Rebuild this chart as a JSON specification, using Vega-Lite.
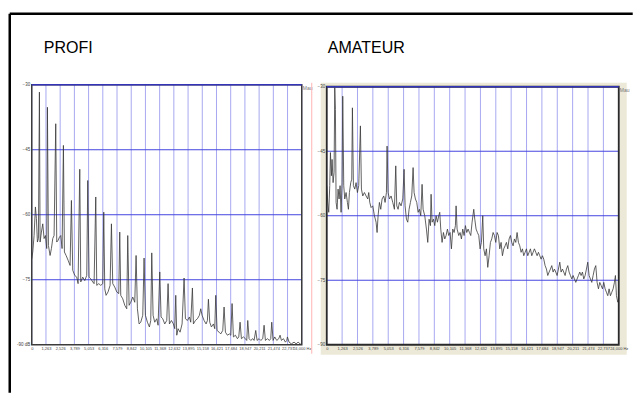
{
  "$schema": "https://vega.github.io/schema/vega-lite/v6.json",
  "autosize": {"type": "pad"},
  "padding": {"left": 7.75, "top": 11.75, "right": 0, "bottom": 0},
  "background": "white",
  "bounds": "flush",
  "spacing": 19,
  "config": {
    "font": "Liberation Sans",
    "view": {"stroke": null},
    "axis": {"grid": false, "domain": false, "ticks": false, "labelFontSize": 4.5, "labelColor": "#444", "labelFont": "Liberation Sans", "labelOverlap": false, "labelFlush": false, "labelPadding": 2}
  },
  "datasets": {
    "one": [{"label": "Mau"}],
    "t1": [{"title": "PROFI"}],
    "t2": [{"title": "AMATEUR"}],
    "xgrid": [{"hz": 0}, {"hz": 1263.16}, {"hz": 2526.32}, {"hz": 3789.47}, {"hz": 5052.63}, {"hz": 6315.79}, {"hz": 7578.95}, {"hz": 8842.11}, {"hz": 10105.26}, {"hz": 11368.42}, {"hz": 12631.58}, {"hz": 13894.74}, {"hz": 15157.89}, {"hz": 16421.05}, {"hz": 17684.21}, {"hz": 18947.37}, {"hz": 20210.53}, {"hz": 21473.68}, {"hz": 22736.84}, {"hz": 24000}],
    "ygrid": [{"db": -45}, {"db": -60}, {"db": -75}],
    "profi": [
      {"hz": 0, "db": -70.2}, {"hz": 89, "db": -68.6}, {"hz": 207, "db": -64.8}, {"hz": 326, "db": -58.2}, {"hz": 415, "db": -60.9}, {"hz": 504, "db": -66.3}, {"hz": 593, "db": -65.5}, {"hz": 681, "db": -31.7}, {"hz": 741, "db": -66.3}, {"hz": 859, "db": -64.0}, {"hz": 978, "db": -62.1}, {"hz": 1096, "db": -65.5}, {"hz": 1215, "db": -64.8}, {"hz": 1333, "db": -67.8}, {"hz": 1393, "db": -35.2}, {"hz": 1482, "db": -67.1}, {"hz": 1630, "db": -69.4}, {"hz": 1748, "db": -67.8}, {"hz": 1867, "db": -65.5}, {"hz": 1985, "db": -64.8}, {"hz": 2133, "db": -39.0}, {"hz": 2222, "db": -66.3}, {"hz": 2341, "db": -65.9}, {"hz": 2459, "db": -65.2}, {"hz": 2578, "db": -64.8}, {"hz": 2696, "db": -67.8}, {"hz": 2815, "db": -44.0}, {"hz": 2904, "db": -68.6}, {"hz": 3052, "db": -69.4}, {"hz": 3230, "db": -70.5}, {"hz": 3407, "db": -71.7}, {"hz": 3526, "db": -56.7}, {"hz": 3644, "db": -72.8}, {"hz": 3822, "db": -74.0}, {"hz": 4000, "db": -74.4}, {"hz": 4119, "db": -75.9}, {"hz": 4267, "db": -49.5}, {"hz": 4356, "db": -75.5}, {"hz": 4533, "db": -74.4}, {"hz": 4711, "db": -75.2}, {"hz": 4889, "db": -74.0}, {"hz": 4978, "db": -52.1}, {"hz": 5096, "db": -74.4}, {"hz": 5245, "db": -74.8}, {"hz": 5422, "db": -75.5}, {"hz": 5541, "db": -75.9}, {"hz": 5689, "db": -55.9}, {"hz": 5778, "db": -76.3}, {"hz": 5956, "db": -75.9}, {"hz": 6133, "db": -76.3}, {"hz": 6311, "db": -75.9}, {"hz": 6400, "db": -59.4}, {"hz": 6489, "db": -77.1}, {"hz": 6607, "db": -78.6}, {"hz": 6785, "db": -77.8}, {"hz": 6963, "db": -76.3}, {"hz": 7082, "db": -62.1}, {"hz": 7200, "db": -75.9}, {"hz": 7378, "db": -76.7}, {"hz": 7556, "db": -77.8}, {"hz": 7733, "db": -78.2}, {"hz": 7822, "db": -64.0}, {"hz": 7911, "db": -78.6}, {"hz": 8089, "db": -79.4}, {"hz": 8267, "db": -80.9}, {"hz": 8444, "db": -81.7}, {"hz": 8533, "db": -64.8}, {"hz": 8652, "db": -80.9}, {"hz": 8800, "db": -80.2}, {"hz": 8978, "db": -79.0}, {"hz": 9156, "db": -80.2}, {"hz": 9274, "db": -69.4}, {"hz": 9393, "db": -81.7}, {"hz": 9541, "db": -85.2}, {"hz": 9689, "db": -84.8}, {"hz": 9867, "db": -83.2}, {"hz": 9985, "db": -70.0}, {"hz": 10104, "db": -83.2}, {"hz": 10281, "db": -84.8}, {"hz": 10459, "db": -85.9}, {"hz": 10578, "db": -84.4}, {"hz": 10667, "db": -68.8}, {"hz": 10785, "db": -83.2}, {"hz": 10933, "db": -84.8}, {"hz": 11111, "db": -84.0}, {"hz": 11230, "db": -85.5}, {"hz": 11378, "db": -73.2}, {"hz": 11496, "db": -83.6}, {"hz": 11644, "db": -84.0}, {"hz": 11822, "db": -85.2}, {"hz": 12000, "db": -84.4}, {"hz": 12119, "db": -75.9}, {"hz": 12237, "db": -85.2}, {"hz": 12415, "db": -84.4}, {"hz": 12593, "db": -85.2}, {"hz": 12711, "db": -86.3}, {"hz": 12800, "db": -78.6}, {"hz": 12889, "db": -87.8}, {"hz": 13007, "db": -86.3}, {"hz": 13185, "db": -87.1}, {"hz": 13363, "db": -85.2}, {"hz": 13541, "db": -74.6}, {"hz": 13659, "db": -84.0}, {"hz": 13837, "db": -84.4}, {"hz": 14015, "db": -83.6}, {"hz": 14133, "db": -84.8}, {"hz": 14281, "db": -76.9}, {"hz": 14370, "db": -85.2}, {"hz": 14548, "db": -84.4}, {"hz": 14726, "db": -84.0}, {"hz": 14904, "db": -83.2}, {"hz": 15022, "db": -81.7}, {"hz": 15141, "db": -83.2}, {"hz": 15319, "db": -84.4}, {"hz": 15496, "db": -85.2}, {"hz": 15615, "db": -84.4}, {"hz": 15704, "db": -79.5}, {"hz": 15822, "db": -84.8}, {"hz": 15970, "db": -85.9}, {"hz": 16148, "db": -85.2}, {"hz": 16267, "db": -86.3}, {"hz": 16356, "db": -78.6}, {"hz": 16474, "db": -86.7}, {"hz": 16652, "db": -87.1}, {"hz": 16800, "db": -87.5}, {"hz": 16978, "db": -86.7}, {"hz": 17096, "db": -81.3}, {"hz": 17215, "db": -87.1}, {"hz": 17393, "db": -87.8}, {"hz": 17570, "db": -87.5}, {"hz": 17689, "db": -87.8}, {"hz": 17807, "db": -80.5}, {"hz": 17926, "db": -88.2}, {"hz": 18104, "db": -87.8}, {"hz": 18281, "db": -88.6}, {"hz": 18400, "db": -88.2}, {"hz": 18519, "db": -84.8}, {"hz": 18637, "db": -88.6}, {"hz": 18815, "db": -88.2}, {"hz": 18993, "db": -88.6}, {"hz": 19111, "db": -89.0}, {"hz": 19200, "db": -84.4}, {"hz": 19319, "db": -88.6}, {"hz": 19467, "db": -89.0}, {"hz": 19644, "db": -88.6}, {"hz": 19763, "db": -89.0}, {"hz": 19911, "db": -86.7}, {"hz": 20030, "db": -89.0}, {"hz": 20207, "db": -88.6}, {"hz": 20356, "db": -89.0}, {"hz": 20533, "db": -88.6}, {"hz": 20652, "db": -85.5}, {"hz": 20770, "db": -89.0}, {"hz": 20948, "db": -88.6}, {"hz": 21126, "db": -89.0}, {"hz": 21244, "db": -88.6}, {"hz": 21333, "db": -84.8}, {"hz": 21452, "db": -89.0}, {"hz": 21600, "db": -88.2}, {"hz": 21778, "db": -89.0}, {"hz": 21956, "db": -88.6}, {"hz": 22074, "db": -87.8}, {"hz": 22193, "db": -89.0}, {"hz": 22370, "db": -88.6}, {"hz": 22548, "db": -89.4}, {"hz": 22667, "db": -89.0}, {"hz": 22726, "db": -88.2}, {"hz": 22874, "db": -89.4}, {"hz": 23081, "db": -89.8}, {"hz": 23319, "db": -89.4}, {"hz": 23496, "db": -89.8}, {"hz": 23674, "db": -89.4}, {"hz": 23852, "db": -89.8}, {"hz": 24000, "db": -90.0}
    ],
    "amateur": [
      {"hz": 0, "db": -53.0}, {"hz": 82, "db": -56.9}, {"hz": 164, "db": -59.2}, {"hz": 247, "db": -53.0}, {"hz": 301, "db": -45.3}, {"hz": 384, "db": -50.7}, {"hz": 438, "db": -46.9}, {"hz": 521, "db": -52.3}, {"hz": 603, "db": -49.9}, {"hz": 658, "db": -30.2}, {"hz": 712, "db": -35.3}, {"hz": 767, "db": -56.9}, {"hz": 849, "db": -58.5}, {"hz": 932, "db": -53.8}, {"hz": 1014, "db": -56.1}, {"hz": 1096, "db": -53.0}, {"hz": 1178, "db": -59.2}, {"hz": 1260, "db": -52.3}, {"hz": 1315, "db": -32.2}, {"hz": 1397, "db": -53.0}, {"hz": 1480, "db": -56.1}, {"hz": 1589, "db": -54.6}, {"hz": 1699, "db": -56.9}, {"hz": 1781, "db": -58.5}, {"hz": 1863, "db": -54.6}, {"hz": 1973, "db": -52.3}, {"hz": 2055, "db": -51.5}, {"hz": 2110, "db": -34.9}, {"hz": 2192, "db": -53.0}, {"hz": 2302, "db": -53.8}, {"hz": 2411, "db": -52.3}, {"hz": 2521, "db": -54.6}, {"hz": 2630, "db": -53.0}, {"hz": 2767, "db": -39.1}, {"hz": 2850, "db": -53.8}, {"hz": 2959, "db": -55.4}, {"hz": 3096, "db": -54.6}, {"hz": 3233, "db": -55.4}, {"hz": 3370, "db": -56.1}, {"hz": 3452, "db": -54.6}, {"hz": 3535, "db": -56.9}, {"hz": 3644, "db": -58.1}, {"hz": 3781, "db": -57.7}, {"hz": 3918, "db": -60.0}, {"hz": 4055, "db": -61.5}, {"hz": 4137, "db": -63.9}, {"hz": 4220, "db": -60.0}, {"hz": 4329, "db": -56.9}, {"hz": 4439, "db": -58.5}, {"hz": 4548, "db": -56.1}, {"hz": 4685, "db": -55.4}, {"hz": 4795, "db": -56.9}, {"hz": 4905, "db": -54.6}, {"hz": 4959, "db": -43.8}, {"hz": 5042, "db": -54.6}, {"hz": 5151, "db": -56.1}, {"hz": 5288, "db": -55.4}, {"hz": 5425, "db": -56.9}, {"hz": 5562, "db": -58.5}, {"hz": 5672, "db": -48.4}, {"hz": 5754, "db": -57.7}, {"hz": 5864, "db": -58.5}, {"hz": 5973, "db": -56.9}, {"hz": 6110, "db": -57.7}, {"hz": 6247, "db": -56.1}, {"hz": 6357, "db": -49.2}, {"hz": 6439, "db": -57.7}, {"hz": 6549, "db": -60.8}, {"hz": 6658, "db": -61.5}, {"hz": 6768, "db": -58.5}, {"hz": 6877, "db": -56.9}, {"hz": 6987, "db": -55.4}, {"hz": 7097, "db": -48.8}, {"hz": 7179, "db": -54.6}, {"hz": 7288, "db": -56.1}, {"hz": 7398, "db": -56.9}, {"hz": 7508, "db": -59.2}, {"hz": 7617, "db": -58.5}, {"hz": 7727, "db": -60.0}, {"hz": 7836, "db": -52.7}, {"hz": 7919, "db": -58.5}, {"hz": 8056, "db": -60.0}, {"hz": 8193, "db": -63.1}, {"hz": 8302, "db": -66.2}, {"hz": 8412, "db": -60.8}, {"hz": 8521, "db": -62.3}, {"hz": 8576, "db": -55.0}, {"hz": 8658, "db": -61.5}, {"hz": 8768, "db": -60.8}, {"hz": 8878, "db": -62.3}, {"hz": 8987, "db": -60.0}, {"hz": 9097, "db": -61.5}, {"hz": 9206, "db": -60.0}, {"hz": 9289, "db": -59.2}, {"hz": 9371, "db": -63.1}, {"hz": 9480, "db": -66.2}, {"hz": 9590, "db": -63.9}, {"hz": 9700, "db": -65.4}, {"hz": 9809, "db": -64.6}, {"hz": 9919, "db": -63.1}, {"hz": 10028, "db": -64.6}, {"hz": 10138, "db": -63.9}, {"hz": 10248, "db": -67.7}, {"hz": 10357, "db": -63.1}, {"hz": 10467, "db": -63.9}, {"hz": 10576, "db": -62.3}, {"hz": 10631, "db": -57.7}, {"hz": 10713, "db": -63.1}, {"hz": 10850, "db": -64.6}, {"hz": 10960, "db": -63.9}, {"hz": 11070, "db": -65.4}, {"hz": 11179, "db": -63.1}, {"hz": 11289, "db": -64.6}, {"hz": 11398, "db": -62.3}, {"hz": 11508, "db": -63.9}, {"hz": 11618, "db": -63.1}, {"hz": 11727, "db": -63.9}, {"hz": 11837, "db": -64.6}, {"hz": 11946, "db": -61.5}, {"hz": 12083, "db": -58.5}, {"hz": 12166, "db": -60.8}, {"hz": 12275, "db": -63.1}, {"hz": 12385, "db": -63.9}, {"hz": 12494, "db": -64.6}, {"hz": 12604, "db": -67.7}, {"hz": 12714, "db": -66.2}, {"hz": 12823, "db": -60.0}, {"hz": 12905, "db": -67.7}, {"hz": 13015, "db": -69.3}, {"hz": 13125, "db": -67.7}, {"hz": 13234, "db": -72.0}, {"hz": 13344, "db": -69.3}, {"hz": 13453, "db": -66.2}, {"hz": 13563, "db": -65.4}, {"hz": 13673, "db": -63.9}, {"hz": 13782, "db": -64.6}, {"hz": 13892, "db": -66.2}, {"hz": 14001, "db": -63.9}, {"hz": 14111, "db": -64.6}, {"hz": 14221, "db": -67.7}, {"hz": 14330, "db": -66.2}, {"hz": 14440, "db": -69.3}, {"hz": 14549, "db": -67.7}, {"hz": 14659, "db": -67.0}, {"hz": 14769, "db": -66.2}, {"hz": 14878, "db": -67.7}, {"hz": 14988, "db": -65.4}, {"hz": 15097, "db": -64.6}, {"hz": 15207, "db": -66.2}, {"hz": 15317, "db": -67.0}, {"hz": 15426, "db": -65.4}, {"hz": 15536, "db": -66.2}, {"hz": 15645, "db": -63.9}, {"hz": 15755, "db": -66.2}, {"hz": 15865, "db": -67.0}, {"hz": 15974, "db": -68.5}, {"hz": 16084, "db": -67.7}, {"hz": 16193, "db": -69.3}, {"hz": 16303, "db": -68.5}, {"hz": 16413, "db": -67.7}, {"hz": 16522, "db": -69.3}, {"hz": 16632, "db": -68.5}, {"hz": 16741, "db": -67.7}, {"hz": 16851, "db": -69.3}, {"hz": 16961, "db": -68.5}, {"hz": 17070, "db": -67.7}, {"hz": 17180, "db": -68.5}, {"hz": 17289, "db": -69.3}, {"hz": 17399, "db": -68.5}, {"hz": 17509, "db": -69.3}, {"hz": 17618, "db": -70.1}, {"hz": 17728, "db": -69.3}, {"hz": 17837, "db": -70.1}, {"hz": 17947, "db": -71.6}, {"hz": 18057, "db": -72.4}, {"hz": 18166, "db": -73.9}, {"hz": 18276, "db": -73.1}, {"hz": 18385, "db": -72.4}, {"hz": 18495, "db": -71.6}, {"hz": 18605, "db": -73.1}, {"hz": 18714, "db": -72.4}, {"hz": 18824, "db": -73.1}, {"hz": 18933, "db": -73.9}, {"hz": 19043, "db": -72.4}, {"hz": 19153, "db": -70.8}, {"hz": 19262, "db": -73.1}, {"hz": 19372, "db": -72.4}, {"hz": 19481, "db": -73.1}, {"hz": 19591, "db": -73.9}, {"hz": 19701, "db": -72.4}, {"hz": 19810, "db": -71.6}, {"hz": 19920, "db": -73.1}, {"hz": 20029, "db": -73.9}, {"hz": 20139, "db": -74.7}, {"hz": 20249, "db": -73.9}, {"hz": 20358, "db": -74.7}, {"hz": 20468, "db": -75.5}, {"hz": 20577, "db": -74.7}, {"hz": 20687, "db": -73.9}, {"hz": 20797, "db": -73.1}, {"hz": 20906, "db": -73.9}, {"hz": 21016, "db": -73.1}, {"hz": 21125, "db": -74.7}, {"hz": 21235, "db": -73.9}, {"hz": 21345, "db": -72.4}, {"hz": 21454, "db": -70.8}, {"hz": 21564, "db": -73.9}, {"hz": 21673, "db": -74.7}, {"hz": 21783, "db": -75.5}, {"hz": 21893, "db": -73.9}, {"hz": 22002, "db": -72.4}, {"hz": 22112, "db": -71.6}, {"hz": 22221, "db": -75.5}, {"hz": 22331, "db": -77.0}, {"hz": 22441, "db": -75.5}, {"hz": 22550, "db": -76.2}, {"hz": 22660, "db": -77.0}, {"hz": 22769, "db": -75.5}, {"hz": 22879, "db": -77.0}, {"hz": 22989, "db": -77.8}, {"hz": 23098, "db": -78.6}, {"hz": 23208, "db": -77.0}, {"hz": 23317, "db": -78.6}, {"hz": 23427, "db": -77.8}, {"hz": 23537, "db": -77.0}, {"hz": 23646, "db": -75.5}, {"hz": 23728, "db": -73.9}, {"hz": 23811, "db": -78.6}, {"hz": 23920, "db": -80.1}, {"hz": 24000, "db": -79.3}
    ]
  },
  "hconcat": [
    {
      "width": 270,
      "height": 272,
      "view": {"stroke": null},
      "layer": [
        {
          "data": {"name": "one"},
          "mark": {"type": "rect", "fill": "white", "stroke": null},
          "encoding": {
            "x": {"datum": 0, "type": "quantitative", "scale": {"domain": [0, 24000], "nice": false, "zero": false},
                  "axis": {"title": null, "values": [0, 1263.16, 2526.32, 3789.47, 5052.63, 6315.79, 7578.95, 8842.11, 10105.26, 11368.42, 12631.58, 13894.74, 15157.89, 16421.05, 17684.21, 18947.37, 20210.53, 21473.68, 22736.84, 24000], "tickCount": 40, "format": ",.0f", "labelExpr": "datum.value >= 24000 ? '24,000 Hz' : datum.label", "offset": -10, "labelOverlap": false, "labelFlush": false, "labelFontSize": 4}},
            "x2": {"datum": 24000},
            "y": {"datum": -90, "type": "quantitative", "scale": {"domain": [-92.31, -29.54], "nice": false, "zero": false},
                  "axis": {"title": null, "values": [-30, -45, -60, -75, -90], "labelExpr": "datum.value == -90 ? '-90 dB' : datum.label", "offset": 0, "labelOverlap": false}},
            "y2": {"datum": -30}
          }
        },
        {
          "data": {"name": "xgrid"},
          "mark": {"type": "rule", "color": "#a8a8f2", "strokeWidth": 1},
          "encoding": {"x": {"field": "hz", "type": "quantitative", "title": null}, "y": {"datum": -90}, "y2": {"datum": -30}}
        },
        {
          "data": {"name": "ygrid"},
          "mark": {"type": "rule", "color": "#4646e0", "strokeWidth": 1},
          "encoding": {"y": {"field": "db", "type": "quantitative", "title": null}, "x": {"datum": 0}, "x2": {"datum": 24000}}
        },
        {
          "data": {"name": "profi"},
          "mark": {"type": "line", "color": "#3a3a3a", "strokeWidth": 0.8, "clip": true},
          "encoding": {"x": {"field": "hz", "type": "quantitative", "title": null}, "y": {"field": "db", "type": "quantitative", "title": null}}
        },
        {
          "data": {"name": "one"},
          "mark": {"type": "rect", "filled": false, "stroke": "#3c3c3c", "strokeWidth": 1.5},
          "encoding": {"x": {"datum": 0}, "x2": {"datum": 24000}, "y": {"datum": -90}, "y2": {"datum": -30}}
        },
        {
          "data": {"name": "one"},
          "mark": {"type": "rule", "color": "#3434b8", "strokeWidth": 1.5},
          "encoding": {"x": {"datum": 0}, "x2": {"datum": 24000}, "y": {"datum": -30}}
        },
        {
          "data": {"name": "one"},
          "mark": {"type": "text", "align": "left", "baseline": "top", "dx": 1, "dy": 1, "fontSize": 5, "color": "#777"},
          "encoding": {"x": {"datum": 24000}, "y": {"datum": -30}, "text": {"field": "label"}}
        },
        {
          "data": {"name": "t1"},
          "mark": {"type": "text", "align": "left", "baseline": "alphabetic", "fontSize": 16, "font": "Liberation Sans", "color": "#000"},
          "encoding": {"x": {"datum": 1067}, "y": {"datum": -22.62}, "text": {"field": "title"}}
        },
        {
          "data": {"name": "one"},
          "mark": {"type": "rule", "color": "#ffb3b3", "strokeWidth": 1},
          "encoding": {"x": {"datum": 24889}, "y": {"datum": -29.54}, "y2": {"datum": -92.08}}
        },
        {
          "data": {"name": "one"},
          "mark": {"type": "rule", "color": "#000", "strokeWidth": 2.5},
          "encoding": {"x": {"datum": -1956}, "x2": {"datum": 53420}, "y": {"datum": -13.62}}
        },
        {
          "data": {"name": "one"},
          "mark": {"type": "rule", "color": "#000", "strokeWidth": 2.5},
          "encoding": {"x": {"datum": -1956}, "y": {"datum": -13.62}, "y2": {"datum": -101.1}}
        }
      ]
    },
    {
      "width": 306,
      "height": 272,
      "view": {"stroke": null, "fill": "#ECE9D8"},
      "layer": [
        {
          "data": {"name": "one"},
          "mark": {"type": "rect", "fill": "white", "stroke": null},
          "encoding": {
            "x": {"datum": 0, "type": "quantitative", "scale": {"domain": [-493, 24658], "nice": false, "zero": false},
                  "axis": {"title": null, "values": [0, 1263.16, 2526.32, 3789.47, 5052.63, 6315.79, 7578.95, 8842.11, 10105.26, 11368.42, 12631.58, 13894.74, 15157.89, 16421.05, 17684.21, 18947.37, 20210.53, 21473.68, 22736.84, 24000], "tickCount": 40, "format": ",.0f", "labelExpr": "datum.value >= 24000 ? '24,000 Hz' : datum.label", "offset": -10, "labelOverlap": false, "labelFlush": false, "labelFontSize": 4}},
            "x2": {"datum": 24000},
            "y": {"datum": -90, "type": "quantitative", "scale": {"domain": [-92.33, -29.07], "nice": false, "zero": false},
                  "axis": {"title": null, "values": [-30, -45, -60, -75, -90], "offset": -6, "labelOverlap": false}},
            "y2": {"datum": -30}
          }
        },
        {
          "data": {"name": "xgrid"},
          "mark": {"type": "rule", "color": "#a8a8f2", "strokeWidth": 1},
          "encoding": {"x": {"field": "hz", "type": "quantitative", "title": null}, "y": {"datum": -90}, "y2": {"datum": -30}}
        },
        {
          "data": {"name": "ygrid"},
          "mark": {"type": "rule", "color": "#4646e0", "strokeWidth": 1},
          "encoding": {"y": {"field": "db", "type": "quantitative", "title": null}, "x": {"datum": 0}, "x2": {"datum": 24000}}
        },
        {
          "data": {"name": "amateur"},
          "mark": {"type": "line", "color": "#3a3a3a", "strokeWidth": 0.8, "clip": true},
          "encoding": {"x": {"field": "hz", "type": "quantitative", "title": null}, "y": {"field": "db", "type": "quantitative", "title": null}}
        },
        {
          "data": {"name": "one"},
          "mark": {"type": "rect", "filled": false, "stroke": "#2a2a2a", "strokeWidth": 1.8},
          "encoding": {"x": {"datum": 0}, "x2": {"datum": 24000}, "y": {"datum": -90}, "y2": {"datum": -30}}
        },
        {
          "data": {"name": "one"},
          "mark": {"type": "rule", "color": "#3434b8", "strokeWidth": 1.5},
          "encoding": {"x": {"datum": 0}, "x2": {"datum": 24000}, "y": {"datum": -30}}
        },
        {
          "data": {"name": "one"},
          "mark": {"type": "text", "align": "left", "baseline": "top", "dx": 1, "dy": 1, "fontSize": 5, "color": "#777"},
          "encoding": {"x": {"datum": 24000}, "y": {"datum": -30}, "text": {"field": "label"}}
        },
        {
          "data": {"name": "t2"},
          "mark": {"type": "text", "align": "left", "baseline": "alphabetic", "fontSize": 16, "font": "Liberation Sans", "color": "#000"},
          "encoding": {"x": {"datum": 82}, "y": {"datum": -22.09}, "text": {"field": "title"}}
        }
      ]
    }
  ]
}
